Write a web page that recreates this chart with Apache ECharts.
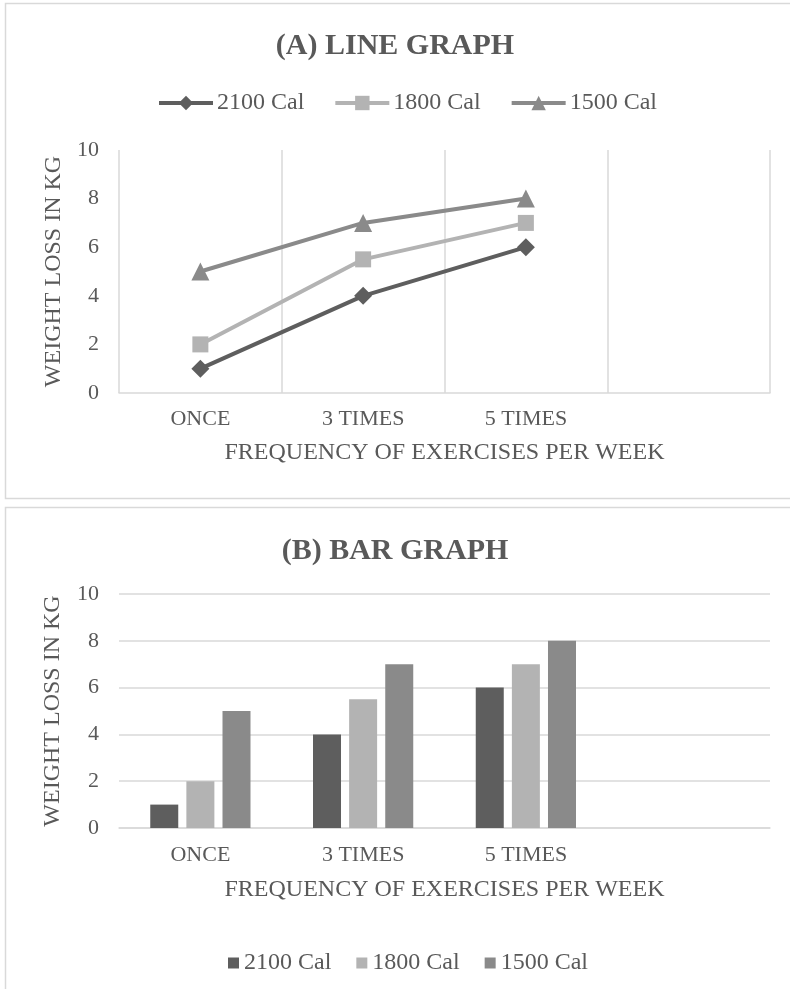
<!DOCTYPE html>
<html>
<head>
<meta charset="utf-8">
<script src="https://cdn.jsdelivr.net/npm/echarts@6/dist/echarts.min.js"></script>
<style>
html,body{margin:0;padding:0;background:#fff;}
#chart{width:790px;height:989px;}
</style>
</head>
<body>
<div id="chart"></div>
<script>
const categories = ['ONCE', '3 TIMES', '5 TIMES', ''];
const seriesNames = ['2100 Cal', '1800 Cal', '1500 Cal'];
const cal2100 = [1, 4, 6];
const cal1800 = [2, 5.5, 7];
const cal1500 = [5, 7, 8];
const yTicks = { min: 0, max: 10, interval: 2 };
const titleA = '(A) LINE GRAPH';
const titleB = '(B) BAR GRAPH';
const xName = 'FREQUENCY OF EXERCISES PER WEEK';
const yName = 'WEIGHT LOSS IN KG';

const colors = ['#5e5e5e', '#b3b3b3', '#8a8a8a'];
const symbols = ['diamond', 'rect', 'triangle'];
const values = [cal2100, cal1800, cal1500];
const FONT = '"Liberation Serif", "DejaVu Serif", serif';
const TXT = '#595959';
const GRID = '#d9d9d9';

const chart = echarts.init(document.getElementById('chart'), null, { renderer: 'canvas' });

function xAxis(gridIndex, split) {
  return {
    type: 'category', gridIndex: gridIndex, data: categories,
    boundaryGap: true,
    axisLine: { show: true, lineStyle: { color: GRID, width: 1.5 } },
    axisTick: { show: false },
    splitLine: { show: split, lineStyle: { color: GRID, width: 1.5 } },
    axisLabel: { color: TXT, fontFamily: FONT, fontSize: 22, margin: gridIndex === 0 ? 15 : 16, interval: 0 },
    name: xName, nameLocation: 'middle', nameGap: gridIndex === 0 ? 48 : 50,
    nameTextStyle: { color: TXT, fontFamily: FONT, fontSize: 24 }
  };
}
function yAxis(gridIndex, split) {
  return {
    type: 'value', gridIndex: gridIndex,
    min: yTicks.min, max: yTicks.max, interval: yTicks.interval,
    axisLine: { show: false }, axisTick: { show: false },
    splitLine: { show: split, lineStyle: { color: GRID, width: 1.5 } },
    axisLabel: { color: TXT, fontFamily: FONT, fontSize: 22, margin: 20 },
    name: yName, nameLocation: 'middle', nameGap: gridIndex === 0 ? 52 : 54,
    nameRotate: 90,
    nameTextStyle: { color: TXT, fontFamily: FONT, fontSize: 24 }
  };
}

const series = [];
seriesNames.forEach((n, i) => {
  series.push({
    name: n, type: 'line', xAxisIndex: 0, yAxisIndex: 0,
    data: values[i], symbol: symbols[i], symbolSize: i === 1 ? 16 : 18,
    lineStyle: { color: colors[i], width: 4 },
    itemStyle: { color: colors[i] },
    animation: false, z: 3 + (2 - i)
  });
});
seriesNames.forEach((n, i) => {
  series.push({
    name: n + ' ', type: 'bar', xAxisIndex: 1, yAxisIndex: 1,
    data: values[i], barWidth: 28, barGap: '29%',
    itemStyle: { color: colors[i] },
    animation: false
  });
});

const option = {
  backgroundColor: '#fff',
  animation: false,
  title: [
    { text: titleA, left: 'center', top: 26, textStyle: { color: TXT, fontFamily: FONT, fontSize: 30, fontWeight: 'bold' } },
    { text: titleB, left: 'center', top: 531, textStyle: { color: TXT, fontFamily: FONT, fontSize: 30, fontWeight: 'bold' } }
  ],
  legend: [
    {
      data: seriesNames, left: 152, top: 86,
      itemWidth: 54, itemHeight: 18, itemGap: 29,
      lineStyle: { width: 4 },
      textStyle: { color: TXT, fontFamily: FONT, fontSize: 24, padding: [0, 0, 0, -1] }
    },
    {
      data: seriesNames.map(n => n + ' '), left: 223, top: 946,
      icon: 'rect', itemWidth: 11, itemHeight: 11, itemGap: 25,
      formatter: (n) => n.trim(),
      textStyle: { color: TXT, fontFamily: FONT, fontSize: 24 }
    }
  ],
  grid: [
    { left: 119, right: 20, top: 150, height: 243 },
    { left: 119, right: 20, top: 594, height: 234 }
  ],
  xAxis: [xAxis(0, true), xAxis(1, false)],
  yAxis: [yAxis(0, false), yAxis(1, true)],
  series: series,
  graphic: [
    { type: 'rect', shape: { x: 5.5, y: 3.5, width: 800, height: 495 }, style: { fill: 'none', stroke: GRID, lineWidth: 1.5 }, silent: true },
    { type: 'rect', shape: { x: 5.5, y: 507.5, width: 800, height: 500 }, style: { fill: 'none', stroke: GRID, lineWidth: 1.5 }, silent: true }
  ]
};
chart.setOption(option);
</script>
</body>
</html>
